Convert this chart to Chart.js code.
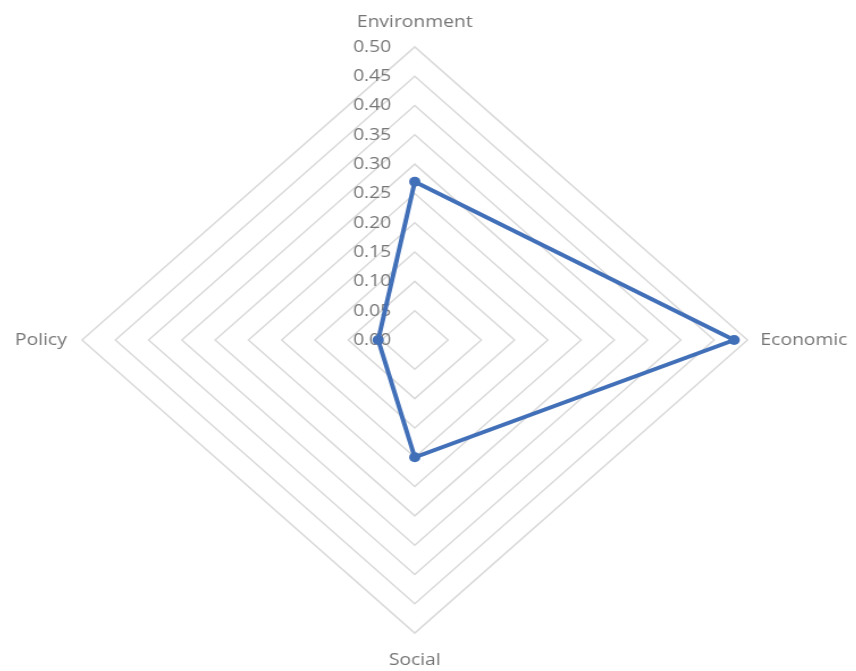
<!DOCTYPE html>
<html>
<head>
<meta charset="utf-8">
<script src="https://cdn.jsdelivr.net/npm/chart.js@4/dist/chart.umd.min.js"></script>
<style>
  html, body { margin: 0; padding: 0; background: #fff; overflow: hidden; }
  body { width: 856px; height: 671px; position: relative; }
  /* the reference is stretched sideways, so the chart is too */
  #wrap {
    position: absolute; left: -96px; top: -10px;
    width: 900px; height: 690px;
    transform: scaleX(1.135); transform-origin: 0 0;
  }
</style>
</head>
<body>
<div id="wrap"><canvas id="radar"></canvas></div>
<script>
var categorias = ["Environment", "Economic", "Social", "Policy"];
var valores = [0.27, 0.48, 0.20, 0.055];
var escalaMin = 0;
var escalaMax = 0.5;
var passo = 0.05;

var cinza = '#767676';
var azul = '#4270b8';

// gap between outer ring and each category label (top, right, bottom, left)
var folgaLabels = [6, 3, 8, 5];

var ctx = document.getElementById("radar");

var radarChart = new Chart(ctx, {
    type: 'radar',
    data: {
        labels: categorias,
        datasets: [{
            label: "Score",
            data: valores,
            borderColor: azul,
            backgroundColor: azul,
            borderWidth: 4,
            fill: false,
            pointRadius: 5,
            pointBackgroundColor: azul,
            pointBorderColor: azul,
            pointBorderWidth: 0
        }]
    },
    options: {
        responsive: true,
        maintainAspectRatio: false,
        animation: false,
        layout: {
            padding: { top: 22, bottom: 9, left: 0, right: 0 }
        },
        plugins: {
            legend: { display: false },
            tooltip: { enabled: false }
        },
        scales: {
            r: {
                min: escalaMin,
                max: escalaMax,
                // let the 0.00 label show at the centre
                afterUpdate: function(scale) {
                    scale.min = -1e-9;
                },
                angleLines: { display: false },
                grid: {
                    color: '#d9d9d9',
                    lineWidth: 1.5,
                    circular: false
                },
                ticks: {
                    stepSize: passo,
                    color: cinza,
                    showLabelBackdrop: false,
                    backdropPadding: 0,
                    font: { family: "'Open Sans', sans-serif", size: 17 },
                    callback: function(v) {
                        return Math.abs(v).toFixed(2) + '                 ';
                    }
                },
                pointLabels: {
                    color: cinza,
                    padding: function(c) { return folgaLabels[c.index]; },
                    font: { family: "'Open Sans', sans-serif", size: 17 }
                }
            }
        }
    }
});
</script>
</body>
</html>
